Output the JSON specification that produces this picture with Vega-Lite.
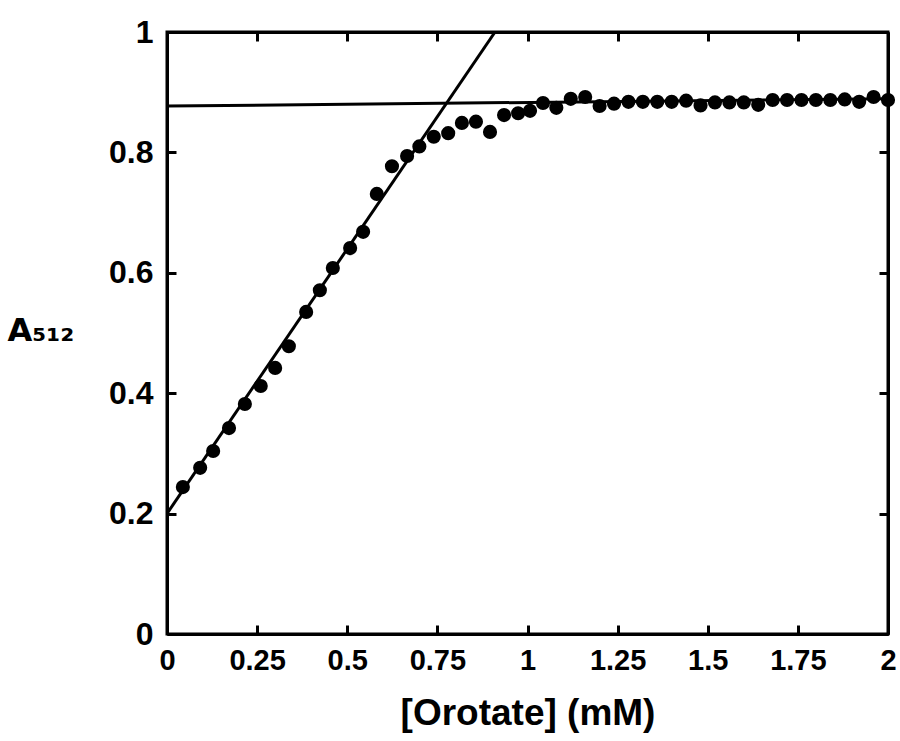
{
  "$schema": "https://vega.github.io/schema/vega-lite/v6.json",
  "width": 721,
  "height": 602,
  "autosize": {"type": "none"},
  "padding": {"left": 167, "top": 32, "right": 12, "bottom": 107},
  "background": "white",
  "datasets": {
    "points": [
      {"orotate": 0.044, "a512": 0.244}, {"orotate": 0.092, "a512": 0.276}, {"orotate": 0.128, "a512": 0.304},
      {"orotate": 0.172, "a512": 0.342}, {"orotate": 0.216, "a512": 0.382}, {"orotate": 0.26, "a512": 0.412},
      {"orotate": 0.3, "a512": 0.442}, {"orotate": 0.338, "a512": 0.478}, {"orotate": 0.386, "a512": 0.535},
      {"orotate": 0.424, "a512": 0.571}, {"orotate": 0.46, "a512": 0.608}, {"orotate": 0.508, "a512": 0.641},
      {"orotate": 0.544, "a512": 0.668}, {"orotate": 0.582, "a512": 0.731}, {"orotate": 0.624, "a512": 0.777},
      {"orotate": 0.666, "a512": 0.794}, {"orotate": 0.7, "a512": 0.81}, {"orotate": 0.74, "a512": 0.826},
      {"orotate": 0.78, "a512": 0.832}, {"orotate": 0.818, "a512": 0.849}, {"orotate": 0.857, "a512": 0.851},
      {"orotate": 0.896, "a512": 0.834}, {"orotate": 0.935, "a512": 0.862}, {"orotate": 0.974, "a512": 0.865},
      {"orotate": 1.007, "a512": 0.869}, {"orotate": 1.043, "a512": 0.882}, {"orotate": 1.08, "a512": 0.874},
      {"orotate": 1.12, "a512": 0.889}, {"orotate": 1.16, "a512": 0.892}, {"orotate": 1.2, "a512": 0.877},
      {"orotate": 1.24, "a512": 0.881}, {"orotate": 1.28, "a512": 0.884}, {"orotate": 1.32, "a512": 0.884},
      {"orotate": 1.36, "a512": 0.884}, {"orotate": 1.4, "a512": 0.884}, {"orotate": 1.44, "a512": 0.886},
      {"orotate": 1.48, "a512": 0.878}, {"orotate": 1.52, "a512": 0.883}, {"orotate": 1.56, "a512": 0.883},
      {"orotate": 1.6, "a512": 0.883}, {"orotate": 1.64, "a512": 0.879}, {"orotate": 1.68, "a512": 0.887},
      {"orotate": 1.72, "a512": 0.887}, {"orotate": 1.76, "a512": 0.887}, {"orotate": 1.8, "a512": 0.887},
      {"orotate": 1.84, "a512": 0.887}, {"orotate": 1.88, "a512": 0.888}, {"orotate": 1.92, "a512": 0.884},
      {"orotate": 1.96, "a512": 0.892}, {"orotate": 2.0, "a512": 0.887}
    ],
    "fits": [
      {"fit": "rise", "orotate": 0.0, "a512": 0.2},
      {"fit": "rise", "orotate": 0.91, "a512": 1.0},
      {"fit": "plateau", "orotate": 0.0, "a512": 0.877},
      {"fit": "plateau", "orotate": 2.0, "a512": 0.889}
    ]
  },
  "config": {
    "view": {"stroke": "black", "strokeWidth": 3},
    "axis": {
      "grid": false,
      "domainColor": "black",
      "domainWidth": 3,
      "tickColor": "black",
      "tickWidth": 3,
      "tickSize": -9,
      "labelFont": "Liberation Sans",
      "labelFontWeight": "bold",
      "labelColor": "black",
      "titleFont": "Liberation Sans",
      "titleFontWeight": "bold",
      "titleColor": "black"
    }
  },
  "resolve": {"axis": {"x": "independent", "y": "independent"}},
  "layer": [
    {
      "data": {"name": "fits"},
      "mark": {"type": "line", "color": "black", "strokeWidth": 3, "clip": true},
      "encoding": {
        "x": {"field": "orotate", "type": "quantitative", "scale": {"domain": [0, 2], "nice": false},
              "axis": {"orient": "top", "values": [0, 0.25, 0.5, 0.75, 1, 1.25, 1.5, 1.75, 2], "labels": false, "title": null}},
        "y": {"field": "a512", "type": "quantitative", "scale": {"domain": [0, 1], "nice": false, "zero": false},
              "axis": {"orient": "right", "values": [0, 0.2, 0.4, 0.6, 0.8, 1], "labels": false, "title": null}},
        "detail": {"field": "fit", "type": "nominal"}
      }
    },
    {
      "data": {"name": "points"},
      "mark": {"type": "point", "shape": "circle", "filled": true, "color": "black", "opacity": 1, "size": 200},
      "encoding": {
        "x": {"field": "orotate", "type": "quantitative", "scale": {"domain": [0, 2], "nice": false},
              "axis": {"orient": "bottom", "values": [0, 0.25, 0.5, 0.75, 1, 1.25, 1.5, 1.75, 2],
                       "labelExpr": "'' + datum.value",
                       "labelFontSize": 29, "labelPadding": 21, "labelFlush": false,
                       "title": "[Orotate] (mM)", "titleFontSize": 37, "titlePadding": 20}},
        "y": {"field": "a512", "type": "quantitative", "scale": {"domain": [0, 1], "nice": false, "zero": false},
              "axis": {"orient": "left", "values": [0, 0.2, 0.4, 0.6, 0.8, 1],
                       "labelExpr": "'' + datum.value",
                       "labelFontSize": 32, "labelPadding": 23, "labelFlush": false,
                       "title": "A₅₁₂", "titleFont": "DejaVu Sans", "titleFontSize": 32, "titleAngle": 0, "titleAlign": "left",
                       "titleBaseline": "middle", "titleX": -160, "titleY": 298}}
      }
    }
  ]
}
